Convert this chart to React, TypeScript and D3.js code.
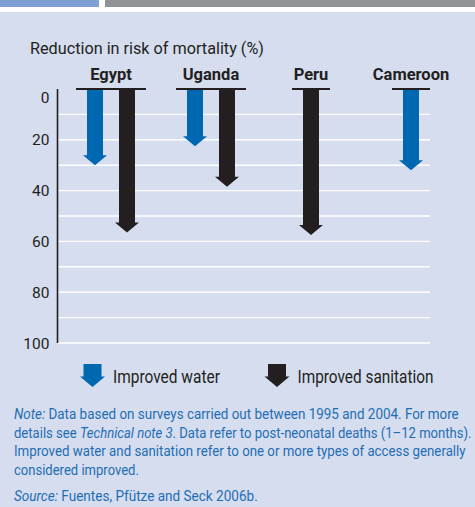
import React, { useLayoutEffect, useRef, useState } from "react";
import * as d3 from "d3";

const countries = ["Egypt", "Uganda", "Peru", "Cameroon"];
const waterValues: (number | null)[] = [30, 22.5, null, 32];
const sanitationValues: (number | null)[] = [56.5, 38.5, 57.5, null];
const yTicks = [0, 20, 40, 60, 80, 100];
const gridValues = [10, 20, 30, 40, 50, 60, 70, 80, 90, 100];
const seriesNames = ["Improved water", "Improved sanitation"];
const seriesColors = ["#0067b1", "#231f20"];
const titleText = "Reduction in risk of mortality (%)";

const W = 475;
const H = 507;
const FONT = "Roboto, 'Liberation Sans', Arial, sans-serif";
const DARK = "#231f20";
const NOTE = "#1f6db3";

function arrowPath(cx: number, y0: number, y1: number, sw: number, hw: number, hh: number) {
  const p = d3.path();
  p.moveTo(cx - sw / 2, y0);
  p.lineTo(cx + sw / 2, y0);
  p.lineTo(cx + sw / 2, y1 - hh);
  p.lineTo(cx + hw / 2, y1 - hh);
  p.lineTo(cx, y1);
  p.lineTo(cx - hw / 2, y1 - hh);
  p.lineTo(cx - sw / 2, y1 - hh);
  p.closePath();
  return p.toString();
}

function FitText(props: {
  x: number;
  y: number;
  width: number;
  fontSize: number;
  fill: string;
  children: React.ReactNode;
}) {
  const ref = useRef<SVGTextElement>(null);
  const [s, setS] = useState(1);
  useLayoutEffect(() => {
    if (ref.current) {
      const len = ref.current.getComputedTextLength();
      if (len > 0) setS(props.width / len);
    }
  }, [props.width]);
  return (
    <text
      ref={ref}
      transform={`translate(${props.x},${props.y}) scale(${s},1)`}
      x={0}
      y={0}
      fontSize={props.fontSize}
      fill={props.fill}
    >
      {props.children}
    </text>
  );
}

export default function App() {
  const y = d3.scaleLinear().domain([0, 100]).range([89, 343]);
  const x = d3.scalePoint<string>().domain(countries).range([111, 411]);
  const axisX = 57.5;
  const gridRight = 430;
  const step = 32;

  const groups = countries.map((c, i) => {
    const vals = [waterValues[i], sanitationValues[i]];
    const present = [0, 1].filter((k) => vals[k] != null);
    const inner = d3
      .scaleBand<number>()
      .domain(present)
      .range([-(present.length * step) / 2, (present.length * step) / 2]);
    const half = present.length * 16 + 3;
    return { c, vals, present, inner, half };
  });

  return (
    <svg
      width={W}
      height={H}
      style={{ position: "absolute", left: 0, top: 0, display: "block" }}
      fontFamily={FONT}
    >
      <rect x={0} y={0} width={W} height={H} fill="#ffffff" />
      <rect x={0} y={12} width={W} height={H - 12} fill="#d5ddef" />
      <rect x={0} y={0} width={99} height={7} fill="#7ea0d3" />
      <rect x={105} y={0} width={W - 105} height={7} fill="#929396" />

      <FitText x={30} y={53.5} width={234} fontSize={17} fill={DARK}>
        {titleText}
      </FitText>

      {gridValues.map((v) => (
        <line key={v} x1={axisX} x2={gridRight} y1={y(v)} y2={y(v)} stroke="#ffffff" strokeWidth={1.4} />
      ))}
      <line x1={axisX} x2={axisX} y1={y(0)} y2={y(100)} stroke={DARK} strokeWidth={1.6} />

      {yTicks.map((t) => (
        <text
          key={t}
          x={49.5}
          y={y(t) + (t === 0 ? 8 : 0)}
          dy="0.36em"
          textAnchor="end"
          fontSize={15.5}
          fill={DARK}
        >
          {t}
        </text>
      ))}

      {groups.map((g) => {
        const cx = x(g.c) as number;
        return (
          <g key={g.c}>
            <text x={cx} y={80} textAnchor="middle" fontSize={16.5} fontWeight={700} fill={DARK}>
              {g.c}
            </text>
            {g.present.map((k) => {
              const ax = cx + (g.inner(k) as number) + g.inner.bandwidth() / 2;
              return (
                <path
                  key={k}
                  d={arrowPath(ax, y(0), y(g.vals[k] as number), 16, 24, 10)}
                  fill={seriesColors[k]}
                />
              );
            })}
            <line x1={cx - g.half} x2={cx + g.half} y1={y(0)} y2={y(0)} stroke={DARK} strokeWidth={2.2} />
          </g>
        );
      })}

      {/* legend */}
      {seriesNames.map((name, k) => {
        const lx = k === 0 ? 92.5 : 277;
        const widths = [107, 136];
        return (
          <g key={name}>
            <path d={arrowPath(lx, 364, 387, 18, 25, 10.5)} fill={seriesColors[k]} />
            <FitText x={lx + 20.5} y={383} width={widths[k]} fontSize={17.5} fill={DARK}>
              {name}
            </FitText>
          </g>
        );
      })}

      {/* note */}
      <g>
        <FitText x={14} y={419} width={445} fontSize={15} fill={NOTE}>
          <tspan fontStyle="italic">Note:</tspan>
          <tspan> Data based on surveys carried out between 1995 and 2004. For more</tspan>
        </FitText>
        <FitText x={14} y={437.5} width={458} fontSize={15} fill={NOTE}>
          <tspan>details see </tspan>
          <tspan fontStyle="italic">Technical note 3</tspan>
          <tspan>. Data refer to post-neonatal deaths (1–12 months).</tspan>
        </FitText>
        <FitText x={14} y={456} width={452} fontSize={15} fill={NOTE}>
          Improved water and sanitation refer to one or more types of access generally
        </FitText>
        <FitText x={14} y={474.5} width={125} fontSize={15} fill={NOTE}>
          considered improved.
        </FitText>
        <FitText x={14} y={500.5} width={244} fontSize={15} fill={NOTE}>
          <tspan fontStyle="italic">Source:</tspan>
          <tspan> Fuentes, Pfütze and Seck 2006b.</tspan>
        </FitText>
      </g>
    </svg>
  );
}
